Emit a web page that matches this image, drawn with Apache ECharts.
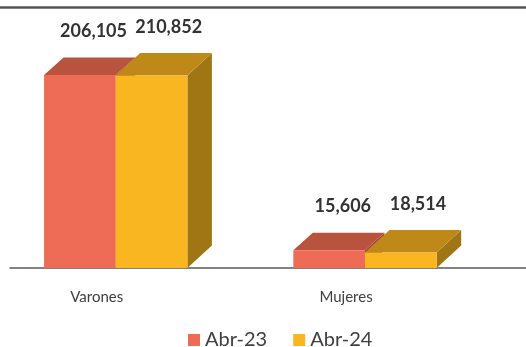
<!DOCTYPE html>
<html>
<head>
<meta charset="utf-8">
<script src="https://cdn.jsdelivr.net/npm/echarts@6/dist/echarts.min.js"></script>
<style>
  html, body { margin: 0; padding: 0; background: #fff; }
  #chart { width: 526px; height: 347px; }
</style>
</head>
<body>
<div id="chart"></div>
<script>
const categories = ['Varones', 'Mujeres']
const seriesNames = ['Abr-23', 'Abr-24']
const abr23 = [206105, 15606]
const abr24 = [210852, 18514]

// colours per series: front, top, side
const faces = [
    { front: '#EE6C55', top: '#B8533E', side: '#A34736' },
    { front: '#F9B621', top: '#BF891A', side: '#A07615' }
]
// depth of the 3d box per series (px)
const depth = [[19.5, 17.5], [24.5, 22.5]]
const LIFT = 21
const BAR_W = 0.2875
const BAR_START = -0.2114

const myChart = echarts.init(document.getElementById('chart'))

function makeRender(slot) {
    const c = faces[slot]
    const dx = depth[slot][0], dy = depth[slot][1]
    return function (params, api) {
        const cat = api.value(0)
        const val = api.value(1)
        const unit = api.size([1, 0])[0]
        const p = api.coord([cat, val])
        const base = api.coord([cat, 0])[1]
        const x0 = p[0] + (BAR_START + slot * BAR_W) * unit
        const x1 = x0 + BAR_W * unit
        const backTop = p[1] - LIFT
        const ft = backTop + dy
        return {
            type: 'group',
            children: [
                {
                    type: 'polygon',
                    shape: { points: [[x1, ft], [x1 + dx, ft - dy], [x1 + dx, base - dy], [x1, base]] },
                    style: { fill: c.side }
                },
                {
                    type: 'polygon',
                    shape: { points: [[x0, ft], [x1, ft], [x1 + dx, ft - dy], [x0 + dx, ft - dy]] },
                    style: { fill: c.top }
                },
                {
                    type: 'rect',
                    shape: { x: x0, y: ft, width: x1 - x0, height: base - ft },
                    style: { fill: c.front }
                },
                {
                    type: 'text',
                    style: {
                        x: (x0 + x1) / 2 + dx * 0.7,
                        y: backTop - 26,
                        text: val.toLocaleString('en-US'),
                        fill: '#333333',
                        font: 'bold 18px Lato',
                        align: 'center',
                        verticalAlign: 'middle'
                    }
                }
            ]
        }
    }
}

const option = {
    animation: false,
    grid: {
        left: 10,
        right: 0,
        top: 38,
        bottom: 79,
        outerBoundsMode: 'none'
    },
    legend: {
        left: 183,
        top: 325,
        itemWidth: 12,
        itemHeight: 12,
        itemGap: 26,
        icon: 'rect',
        data: seriesNames,
        textStyle: {
            color: '#404040',
            fontFamily: 'Lato',
            fontSize: 20
        }
    },
    xAxis: {
        type: 'value',
        min: -0.348,
        max: 1.722,
        splitLine: { show: false },
        axisTick: { show: false },
        axisLine: {
            lineStyle: { color: '#595959', width: 1.5 }
        },
        axisLabel: {
            customValues: [0, 1],
            formatter: (v) => categories[Math.round(v)] || '',
            color: '#404040',
            fontFamily: 'Lato',
            fontSize: 15,
            margin: 22
        }
    },
    yAxis: {
        type: 'value',
        min: 0,
        max: 250000,
        show: false
    },
    graphic: [{
        type: 'line',
        shape: { x1: 0, y1: 7.5, x2: 526, y2: 7.5 },
        style: { stroke: '#555555', lineWidth: 2.5 }
    }],
    series: [
        {
            name: seriesNames[0],
            type: 'custom',
            itemStyle: { color: faces[0].front },
            renderItem: makeRender(0),
            data: abr23.map((v, i) => [i, v])
        },
        {
            name: seriesNames[1],
            type: 'custom',
            itemStyle: { color: faces[1].front },
            renderItem: makeRender(1),
            data: abr24.map((v, i) => [i, v])
        }
    ]
}

myChart.setOption(option)
</script>
</body>
</html>
